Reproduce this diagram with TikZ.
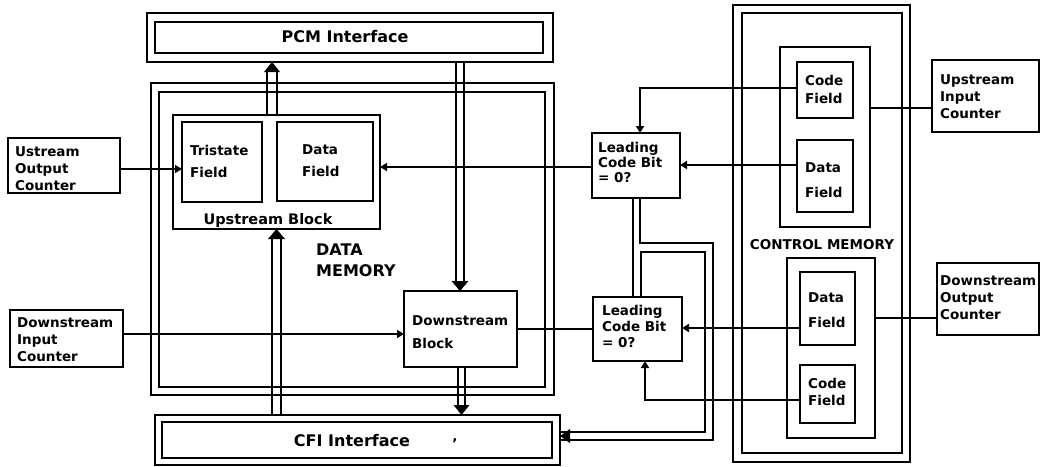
\documentclass[tikz,border=0pt]{standalone}
\usepackage{fontspec}
\setmainfont{DejaVu Sans}
\usetikzlibrary{arrows.meta}
\newcommand\tf[1]{\fontsize{13.5}{#1}\selectfont\bfseries}
\newcommand\bx[6][]{%
 \pgfmathsetmacro\bxcx{(#3+#5)/2}%
 \pgfmathsetmacro\bxcy{(#4+#6)/2}%
 \pgfmathsetmacro\bxw{#5-#3}%
 \pgfmathsetmacro\bxh{#6-#4}%
 \node[box,minimum width=\bxw pt,minimum height=\bxh pt,#1] (#2) at (\bxcx,\bxcy) {};}
\tikzset{
 box/.style={draw,line width=2.3pt,inner sep=0pt,outer sep=0pt},
 ln/.style={line width=2pt},
 tip/.style={-{Triangle[width=8pt,length=7pt]}},
 txt/.style={font=\tf{17},align=left,inner sep=0pt,anchor=west},
}
\begin{document}
\begin{tikzpicture}[x=1pt,y=-1pt]
\useasboundingbox (0,0) rectangle (1040,466);
% interfaces
\bx{pcmO}{147}{13}{553}{62}
\bx{pcmI}{155}{22}{543}{53}
\bx{cfiO}{155}{415}{560}{465}
\bx{cfiI}{162}{422}{552}{458}
% data memory
\bx{dmO}{151}{83}{554}{395}
\bx{dmI}{159}{92}{545}{387}
\bx{ub}{173}{115}{380}{229}
\bx{tri}{182}{122}{262}{202}
\bx{udf}{277}{122}{373}{201}
\bx{db}{404}{291}{517}{367}
% counters
\bx{uoc}{8}{138}{120}{193}
\bx{dic}{10}{310}{123}{367}
\bx{uic}{932}{60}{1039}{132}
\bx{doc}{937}{263}{1039}{335}
% leading code bit
\bx{lcb1}{592}{133}{680}{198}
\bx{lcb2}{593}{297}{682}{361}
% control memory
\bx{cmO}{733}{5}{910}{462}
\bx{cmI}{742}{13}{902}{453}
\bx{cmu}{780}{47}{870}{227}
\bx{cmcf1}{797}{62}{853}{118}
\bx{cmdf1}{797}{140}{853}{212}
\bx{cml}{787}{258}{875}{438}
\bx{cmdf2}{800}{272}{855}{345}
\bx{cmcf2}{800}{365}{855}{423}
% texts
\node[txt,anchor=center,font=\fontsize{16}{17}\selectfont\bfseries] (tpcm) at (345,37) {PCM Interface};
\node[txt,anchor=center,font=\fontsize{16}{17}\selectfont\bfseries] (tcfi) at (352,441) {CFI Interface};
\node[txt,anchor=center] (tdot) at (455,444) {'};
\node[txt] (tuoc) at (15,169) {Ustream\\Output\\Counter};
\node[txt] (tdic) at (17,340) {Downstream\\Input\\Counter};
\node[txt] (tuic) at (940,97) {Upstream\\Input\\Counter};
\node[txt] (tdoc) at (940,298) {Downstream\\Output\\Counter};
\node[txt,font=\tf{22}] (ttri) at (190,161) {Tristate\\Field};
\node[txt,font=\tf{22}] (tudf) at (302,161) {Data\\Field};
\node[txt,anchor=center,font=\fontsize{14.5}{17}\selectfont\bfseries] (tub) at (268,220) {Upstream Block};
\node[txt,font=\tf{23}] (tdb) at (412,332) {Downstream\\Block};
\node[txt,font=\tf{15}] (tl1) at (598,162) {Leading\\Code Bit\\= 0?};
\node[txt,font=\tf{16}] (tl2) at (602,326) {Leading\\Code Bit\\= 0?};
\node[txt,font=\tf{18}] (tcf1) at (805,89) {Code\\Field};
\node[txt,font=\tf{25}] (tdf1) at (805,180) {Data\\Field};
\node[txt,font=\tf{25}] (tdf2) at (808,310) {Data\\Field};
\node[txt,font=\tf{17}] (tcf2) at (808,392) {Code\\Field};
\node[txt,font=\fontsize{16}{21}\selectfont\bfseries] (tdm) at (316,260) {DATA\\MEMORY};
\node[txt,anchor=center,font=\fontsize{13.5}{15}\selectfont\bfseries] (tcm) at (822,245) {CONTROL MEMORY};
% single connectors
\draw[ln,tip] (uoc.east |- 0,169) -- (tri.west |- 0,169);
\draw[ln,tip] (lcb1.west |- 0,167) -- (ub.east |- 0,167);
\draw[ln,tip] (cmdf1.west |- 0,165) -- (lcb1.east |- 0,165);
\draw[ln,tip] (cmcf1.west |- 0,88) -| (640,0 |- lcb1.north);
\draw[ln] (cmu.east |- 0,108) -- (uic.west |- 0,108);
\draw[ln] (cml.east |- 0,318) -- (doc.west |- 0,318);
\draw[ln,tip] (dic.east |- 0,334) -- (db.west |- 0,334);
\draw[ln] (db.east |- 0,329) -- (lcb2.west |- 0,329);
\draw[ln,tip] (cmdf2.west |- 0,328) -- (lcb2.east |- 0,328);
\draw[ln,tip] (cmcf2.west |- 0,400) -| (645,0 |- lcb2.south);
\draw[ln] (633,0 |- lcb1.south) -- (633,0 |- lcb2.north);
\draw[ln] (640,0 |- lcb1.south) |- (713,243) |- (cfiO.east |- 0,440);
\draw[ln] (641,0 |- lcb2.north) |- (705,252) |- (cfiO.east |- 0,432);
\fill (cfiO.east |- 0,436) -- ++(10,-7) -- ++(0,14) -- cycle;
% double connectors
\path (pcmO.south) ++(0,9) coordinate (pcmA);
\draw[ln] (267,0 |- ub.north) -- (267,0 |- pcmA);
\draw[ln] (277,0 |- ub.north) -- (277,0 |- pcmA);
\fill (272,0 |- pcmO.south) -- ++(-8,10) -- ++(16,0) -- cycle;
\path (db.north) ++(0,-9) coordinate (dbA);
\draw[ln] (456,0 |- pcmO.south) -- (456,0 |- dbA);
\draw[ln] (464,0 |- pcmO.south) -- (464,0 |- dbA);
\fill (460,0 |- db.north) -- ++(-8.5,-10) -- ++(17,0) -- cycle;
\path (cfiO.north) ++(0,-9) coordinate (cfiA);
\draw[ln] (458,0 |- db.south) -- (458,0 |- cfiA);
\draw[ln] (465,0 |- db.south) -- (465,0 |- cfiA);
\fill (461.5,0 |- cfiO.north) -- ++(-8,-10) -- ++(16,0) -- cycle;
\path (ub.south) ++(0,9) coordinate (ubA);
\draw[ln] (272,0 |- cfiO.north) -- (272,0 |- ubA);
\draw[ln] (281,0 |- cfiO.north) -- (281,0 |- ubA);
\fill (276.5,0 |- ub.south) -- ++(-8.5,10) -- ++(17,0) -- cycle;
\end{tikzpicture}
\end{document}
